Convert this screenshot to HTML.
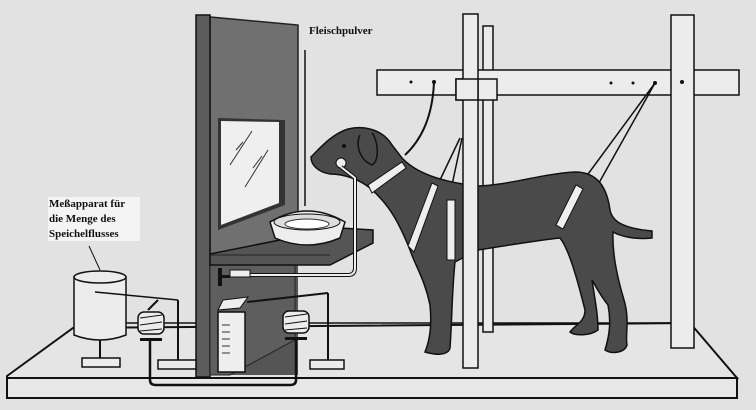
<!DOCTYPE html>
<html><head><meta charset="utf-8"><style>
html,body{margin:0;padding:0;background:#e1e2e1;}
svg{display:block}
</style></head><body>
<svg width="756" height="410" viewBox="0 0 756 410" xmlns="http://www.w3.org/2000/svg">
<rect width="756" height="410" fill="#e1e2e1"/>
<!-- base board -->
<polygon points="7,376 73,328 690,323 737,378 7,378" fill="#e4e5e4" stroke="#111" stroke-width="2"/>
<rect x="7" y="378" width="730" height="20" fill="#e6e7e6" stroke="#111" stroke-width="2"/>
<!-- lower apparatus back lines -->
<line x1="125" y1="323" x2="200" y2="323" stroke="#111" stroke-width="1.5"/>
<line x1="300" y1="323" x2="690" y2="323" stroke="#111" stroke-width="1.5"/>
<!-- panel -->
<polygon points="196,15 298,25 298,375 196,375" fill="#555"/>
<polygon points="210,17 298,25 298,250 210,258" fill="#707070" stroke="#222" stroke-width="1.5"/>
<rect x="196" y="15" width="14" height="362" fill="#5c5c5c" stroke="#111" stroke-width="1.5"/>
<polygon points="210,265 295,265 295,340 230,375 210,375" fill="#5e5e5e" stroke="#222"/>
<!-- window -->
<polygon points="218,118 285,120 285,205 218,230" fill="#333"/>
<polygon points="221,121 279,122 279,203 221,225" fill="#efefef"/>
<line x1="230" y1="165" x2="252" y2="131" stroke="#333"/><line x1="236" y1="150" x2="243" y2="142" stroke="#333"/>
<line x1="245" y1="187" x2="268" y2="150" stroke="#333"/><line x1="253" y1="168" x2="262" y2="156" stroke="#333"/>
<!-- pole -->
<line x1="305" y1="50" x2="305" y2="206" stroke="#111" stroke-width="1.5"/>
<!-- shelf -->
<polygon points="210,254 340,228 373,230 373,243 330,265 210,265" fill="#555" stroke="#111" stroke-width="1.5"/>
<line x1="210" y1="255" x2="330" y2="255" stroke="#222"/>
<!-- bowl -->
<path d="M270,222 Q307,200 345,222 L340,238 Q307,252 275,238 Z" fill="#eee" stroke="#111" stroke-width="1.5"/>
<ellipse cx="307" cy="222" rx="33" ry="8" fill="#ddd" stroke="#111"/>
<ellipse cx="307" cy="224" rx="22" ry="5" fill="#fff" stroke="#333"/>
<!-- frame posts -->
<rect x="483" y="26" width="10" height="306" fill="#eaeaea" stroke="#111" stroke-width="1.5"/>
<rect x="377" y="70" width="362" height="25" fill="#ececec" stroke="#111" stroke-width="1.5"/>
<rect x="671" y="15" width="23" height="333" fill="#ececec" stroke="#111" stroke-width="1.5"/>
<rect x="456" y="79" width="41" height="21" fill="#ececec" stroke="#111" stroke-width="1.5"/>
<circle cx="411" cy="82" r="1.5" fill="#111"/><circle cx="434" cy="82" r="2" fill="#111"/>
<circle cx="611" cy="83" r="1.5" fill="#111"/><circle cx="633" cy="83" r="1.5" fill="#111"/><circle cx="655" cy="83" r="2" fill="#111"/><circle cx="682" cy="82" r="2" fill="#111"/>
<!-- rope from beam to collar -->
<path d="M434,82 Q432,130 405,155" fill="none" stroke="#111" stroke-width="2"/>
<!-- hind straps -->
<line x1="655" y1="83" x2="580" y2="185" stroke="#111" stroke-width="1.5"/>
<line x1="655" y1="83" x2="595" y2="190" stroke="#111" stroke-width="1.5"/>
<line x1="460" y1="138" x2="440" y2="180" stroke="#111" stroke-width="1.5"/>
<line x1="462" y1="138" x2="452" y2="185" stroke="#111" stroke-width="1.5"/>
<!-- dog -->
<path d="M311,157 C320,148 332,134 348,129 C365,125 383,130 392,145 L402,158 C415,172 440,182 478,186 C510,185 540,174 575,172 C598,172 607,188 610,210 C612,220 620,228 652,231 L652,238 C635,240 620,236 613,232 C612,255 618,280 624,300 C630,320 625,335 627,345 C625,352 613,355 605,350 C608,340 612,325 608,305 C600,295 595,285 592,280 C595,300 598,315 598,330 C590,336 575,336 570,332 C575,325 585,322 585,310 C580,290 570,250 560,238 C540,240 510,245 478,250 L455,262 C452,290 452,320 450,348 C448,356 435,355 425,352 C430,340 432,325 430,305 C425,280 415,265 410,250 C400,225 390,205 370,188 C360,180 345,174 330,174 C318,172 311,165 311,157 Z" fill="#4a4a4a" stroke="#111" stroke-width="1.5"/>
<path d="M360,135 C355,145 360,160 372,165 C380,160 378,140 372,133" fill="none" stroke="#111" stroke-width="1.5"/>
<circle cx="344" cy="146" r="2" fill="#111"/>
<!-- collar and harness -->
<path d="M368,185 L402,162 L406,168 L372,193 Z" fill="#eee" stroke="#111"/>
<path d="M408,246 L432,183 L438,186 L414,252 Z" fill="#eee" stroke="#111"/>
<rect x="447" y="200" width="8" height="60" fill="#eee" stroke="#111"/>
<path d="M556,225 L576,185 L583,189 L563,229 Z" fill="#eee" stroke="#111"/>
<!-- front post over dog -->
<rect x="463" y="14" width="15" height="354" fill="#ececec" stroke="#111" stroke-width="1.5"/>
<rect x="456" y="79" width="22" height="21" fill="#ececec" stroke="#111" stroke-width="1.5"/>
<!-- mouth tube -->
<circle cx="341" cy="163" r="5" fill="#eee" stroke="#111"/>
<path d="M341,167 L355,178 L355,268 Q355,275 348,275 L240,275" fill="none" stroke="#111" stroke-width="4"/>
<path d="M341,167 L355,178 L355,268 Q355,275 348,275 L240,275" fill="none" stroke="#eee" stroke-width="2"/>
<!-- tap -->
<rect x="218" y="268" width="4" height="18" fill="#111"/><rect x="218" y="275" width="12" height="3" fill="#111"/>
<rect x="230" y="270" width="20" height="7" fill="#eee" stroke="#111"/>
<!-- cylinder graduated -->
<rect x="218" y="312" width="27" height="60" fill="#eee" stroke="#111" stroke-width="1.5"/>
<polygon points="223,300 248,297 240,308 218,310" fill="#eee" stroke="#111"/>
<g stroke="#333"><line x1="222" y1="325" x2="230" y2="325"/><line x1="222" y1="332" x2="230" y2="332"/><line x1="222" y1="339" x2="230" y2="339"/><line x1="222" y1="346" x2="230" y2="346"/><line x1="222" y1="353" x2="230" y2="353"/></g>
<!-- measuring drum -->
<path d="M74,277 Q100,268 126,277 L126,335 Q100,345 74,335 Z" fill="#ececec" stroke="#111" stroke-width="1.5"/>
<ellipse cx="100" cy="277" rx="26" ry="6" fill="#ececec" stroke="#111" stroke-width="1.5"/>
<line x1="100" y1="340" x2="100" y2="358" stroke="#111" stroke-width="2"/>
<rect x="82" y="358" width="38" height="9" fill="#ececec" stroke="#111" stroke-width="1.5"/>
<line x1="95" y1="292" x2="178" y2="300" stroke="#111" stroke-width="1.5"/>
<!-- left stand -->
<line x1="178" y1="300" x2="178" y2="360" stroke="#111" stroke-width="2"/>
<rect x="158" y="360" width="38" height="9" fill="#ececec" stroke="#111" stroke-width="1.5"/>
<!-- bellows left -->
<rect x="138" y="312" width="26" height="22" rx="6" fill="#ececec" stroke="#111" stroke-width="1.5"/>
<path d="M140,318 L162,315 M140,325 L162,322 M140,331 L162,329" stroke="#111"/>
<line x1="148" y1="310" x2="158" y2="300" stroke="#111" stroke-width="2"/>
<rect x="140" y="338" width="22" height="3" fill="#111"/>
<!-- bellows right -->
<rect x="283" y="311" width="26" height="22" rx="6" fill="#ececec" stroke="#111" stroke-width="1.5"/>
<path d="M285,317 L307,314 M285,324 L307,321 M285,330 L307,328" stroke="#111"/>
<rect x="285" y="337" width="22" height="3" fill="#111"/>
<line x1="247" y1="302" x2="328" y2="293" stroke="#111" stroke-width="2"/>
<line x1="328" y1="293" x2="328" y2="360" stroke="#111" stroke-width="2"/>
<rect x="310" y="360" width="34" height="9" fill="#ececec" stroke="#111" stroke-width="1.5"/>
<!-- connecting tube -->
<path d="M150,341 L150,380 Q150,385 156,385 L290,385 Q296,385 296,380 L296,340" fill="none" stroke="#111" stroke-width="2.5"/>
<!-- labels -->
<text x="309" y="34" font-family="Liberation Serif, serif" font-weight="bold" font-size="11" fill="#111">Fleischpulver</text>
<rect x="48" y="197" width="92" height="44" fill="#f4f4f4"/>
<text font-family="Liberation Serif, serif" font-weight="bold" font-size="11" fill="#111"><tspan x="49" y="207">Meßapparat für</tspan><tspan x="49" y="222">die Menge des</tspan><tspan x="49" y="237">Speichelflusses</tspan></text>
<line x1="89" y1="246" x2="100" y2="270" stroke="#111"/>
</svg>
</body></html>
